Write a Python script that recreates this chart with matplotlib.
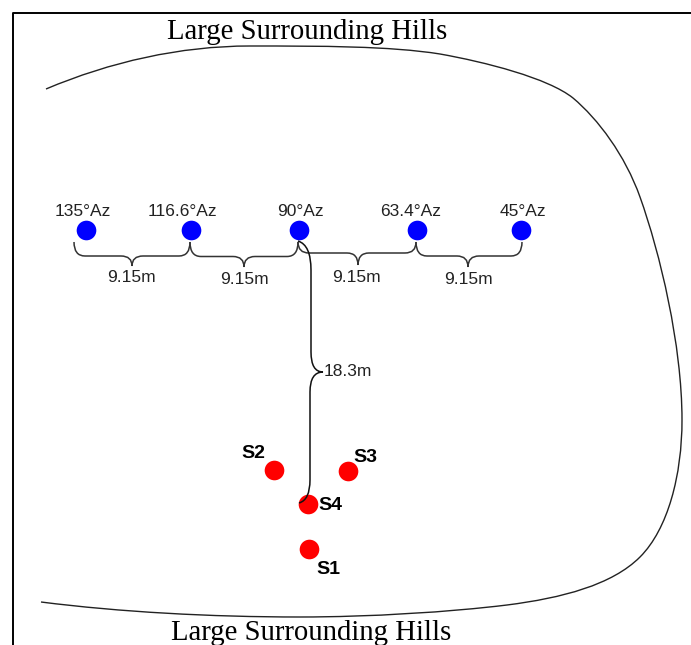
# plot.py - hill site sketch with sensor and source positions

import matplotlib
matplotlib.use("Agg")
import matplotlib.pyplot as plt
from matplotlib.path import Path
from matplotlib.patches import PathPatch

# Sensors along the top row (image pixel coordinates)
az_labels = ["135°Az", "116.6°Az", "90°Az", "63.4°Az", "45°Az"]
az_x = [86, 191, 299, 417, 521]
az_y = [230, 230, 230, 230, 230]
az_label_x = [83, 182.5, 300, 410.5, 522.5]

# Sources
src_labels = ["S2", "S3", "S4", "S1"]
src_x = [274, 348, 308, 309]
src_y = [470, 471, 504, 549]
src_label_x = [253, 365, 330.5, 328]
src_label_y = [454, 457, 505.5, 569]

# Spacing labels
spacing_labels = ["9.15m", "9.15m", "9.15m", "9.15m"]
spacing_x = [131, 244, 356, 468]
spacing_y = [277, 279.5, 277, 279.5]

# Horizontal braces: left end, tip, right end, bar height, tip height
brace_x0 = [74, 190, 298, 416]
brace_tip = [132, 244, 358, 468]
brace_x1 = [190, 298, 416, 522]
brace_bar = [256, 256.5, 253, 256]
brace_low = [266, 267, 265, 267]


def horizontal_brace(ax, x0, tip, x1, bar, low, top=242):
    r = 11
    verts = [
        (x0, top), (x0, bar), (x0 + r, bar),
        (tip - r, bar), (tip, bar), (tip, low),
        (tip, bar), (tip + r, bar),
        (x1 - r, bar), (x1, bar), (x1, top),
    ]
    codes = [
        Path.MOVETO, Path.CURVE3, Path.CURVE3,
        Path.LINETO, Path.CURVE3, Path.CURVE3,
        Path.CURVE3, Path.CURVE3,
        Path.LINETO, Path.CURVE3, Path.CURVE3,
    ]
    ax.add_patch(PathPatch(Path(verts, codes), fc="none", ec="#333333", lw=1.1))


def main():
    fig = plt.figure(figsize=(6.91, 6.45), dpi=100)
    ax = fig.add_axes([0, 0, 1, 1])
    ax.set_xlim(0, 691)
    ax.set_ylim(645, 0)
    ax.axis("off")

    # Frame, only top and left are visible
    ax.plot([13, 13, 691], [645, 13, 13], color="black", lw=1.4)

    # Hills outline
    hill = [
        (46, 89),
        (110, 62), (180, 46), (250, 46),
        (320, 46), (390, 46), (440, 54),
        (485, 62), (548, 78), (573, 98),
        (598, 119), (625, 155), (640, 197),
        (660, 253), (682, 345), (682, 420),
        (682, 475), (668, 529), (640, 557),
        (612, 585), (562, 598), (507, 605),
        (450, 612), (370, 617), (300, 617),
        (210, 617), (120, 612), (41, 602),
    ]
    codes = [Path.MOVETO] + [Path.CURVE4] * 27
    ax.add_patch(PathPatch(Path(hill, codes), fc="none", ec="#222222", lw=1.0))

    for x0, tip, x1, bar, low in zip(brace_x0, brace_tip, brace_x1, brace_bar, brace_low):
        horizontal_brace(ax, x0, tip, x1, bar, low)

    # Vertical 18.3m brace
    verts = [
        (298, 241), (311, 245), (311, 270),
        (311, 352), (311, 372), (323, 372),
        (310, 372), (310, 392),
        (310, 480), (310, 500), (299, 503),
    ]
    codes = [
        Path.MOVETO, Path.CURVE3, Path.CURVE3,
        Path.LINETO, Path.CURVE3, Path.CURVE3,
        Path.CURVE3, Path.CURVE3,
        Path.LINETO, Path.CURVE3, Path.CURVE3,
    ]

    # Markers: s is in points^2, 19 px across at 100 dpi
    ax.scatter(az_x, az_y, s=200, color="#0000ff", linewidths=0, zorder=3)
    ax.scatter(src_x, src_y, s=200, color="#ff0000", linewidths=0, zorder=3)
    ax.add_patch(PathPatch(Path(verts, codes), fc="none", ec="#111111", lw=1.1, zorder=4))

    sans = "Liberation Sans"
    serif = "Liberation Serif"
    for label, x, y in zip(az_labels, az_label_x, az_y):
        ax.text(x, y - 19, label, family=sans, fontsize=12.5,
                ha="center", va="center", color="#222222")
    for label, x, y in zip(spacing_labels, spacing_x, spacing_y):
        ax.text(x, y, label, family=sans, fontsize=12.5, ha="center", va="center", color="#222222")
    ax.text(324, 372, "18.3m", family=sans, fontsize=12.5, ha="left", va="center", color="#222222")

    for label, x, y in zip(src_labels, src_label_x, src_label_y):
        ax.text(x, y, label, family=sans, fontsize=14, fontweight="bold",
                ha="center", va="center", color="black")

    ax.text(307, 32, "Large Surrounding Hills", family=serif, fontsize=20.7, ha="center", va="center", color="black")
    ax.text(311.5, 633, "Large Surrounding Hills", family=serif, fontsize=20.7, ha="center", va="center", color="black")

    fig.savefig("out.png", dpi=100)


if __name__ == "__main__":
    main()
